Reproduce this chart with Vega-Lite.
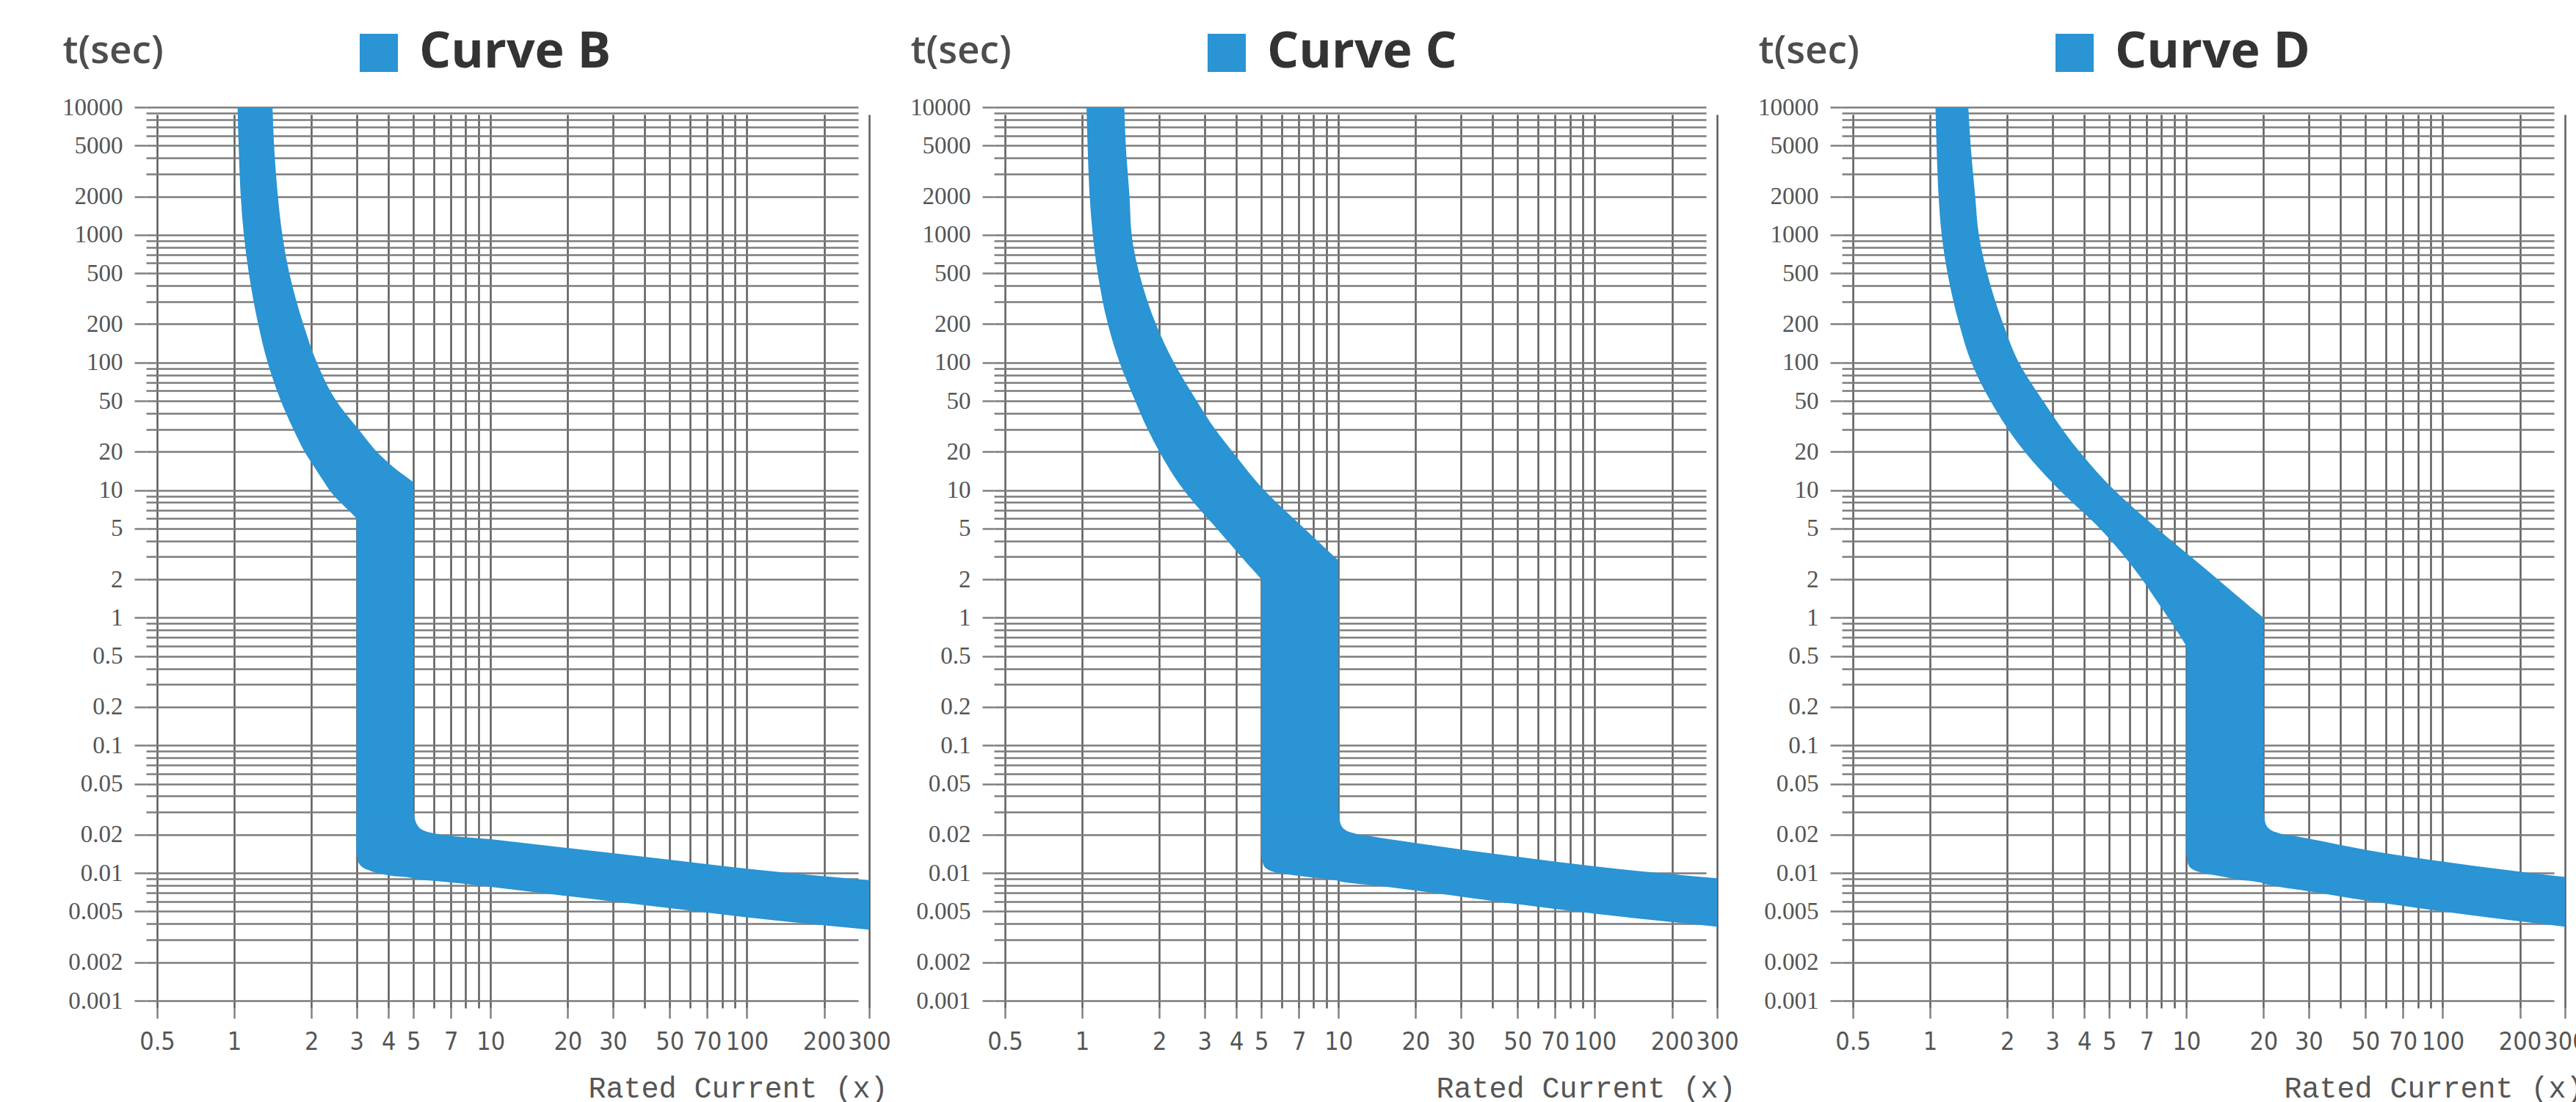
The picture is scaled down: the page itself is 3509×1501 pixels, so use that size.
{
  "$schema": "https://vega.github.io/schema/vega-lite/v6.json",
  "background": "white",
  "padding": {"left": 84, "top": 38, "right": 0, "bottom": 4},
  "datasets": {
    "B_steep": [
      {"t": 10000, "lo": 1.03, "hi": 1.41}, {"t": 5000, "lo": 1.04, "hi": 1.43}, {"t": 2000, "lo": 1.06, "hi": 1.48},
      {"t": 1000, "lo": 1.09, "hi": 1.54}, {"t": 500, "lo": 1.14, "hi": 1.64}, {"t": 200, "lo": 1.24, "hi": 1.86},
      {"t": 100, "lo": 1.35, "hi": 2.10}, {"t": 50, "lo": 1.52, "hi": 2.50}, {"t": 30, "lo": 1.70, "hi": 3.05},
      {"t": 20, "lo": 1.88, "hi": 3.6}, {"t": 15, "lo": 2.06, "hi": 4.2}, {"t": 11.8, "lo": 2.226, "hi": 4.92},
      {"t": 11.5, "lo": 2.245, "hi": 5.0}, {"t": 10, "lo": 2.35, "hi": 5.0}, {"t": 6.15, "lo": 2.965, "hi": 5.0},
      {"t": 6, "lo": 3.0, "hi": 5.0}, {"t": 0.014, "lo": 3.0, "hi": 5.0}
    ],
    "B_tail": [
      {"x": 3, "lo": 0.014, "hi": 0.03}, {"x": 3.05, "lo": 0.0122, "hi": 0.03}, {"x": 3.15, "lo": 0.0112, "hi": 0.03},
      {"x": 3.4, "lo": 0.0104, "hi": 0.03}, {"x": 4, "lo": 0.0096, "hi": 0.03}, {"x": 5, "lo": 0.0091, "hi": 0.03},
      {"x": 5.08, "lo": 0.009, "hi": 0.026}, {"x": 5.2, "lo": 0.0089, "hi": 0.0235}, {"x": 5.5, "lo": 0.0088, "hi": 0.0215},
      {"x": 6, "lo": 0.0087, "hi": 0.0205}, {"x": 10, "lo": 0.0078, "hi": 0.0184}, {"x": 20, "lo": 0.0066, "hi": 0.0157},
      {"x": 50, "lo": 0.0053, "hi": 0.0127}, {"x": 100, "lo": 0.0045, "hi": 0.0108}, {"x": 300, "lo": 0.0036, "hi": 0.0088}
    ],
    "C_steep": [
      {"t": 10000, "lo": 1.04, "hi": 1.46}, {"t": 5000, "lo": 1.05, "hi": 1.48}, {"t": 2000, "lo": 1.07, "hi": 1.53},
      {"t": 1000, "lo": 1.10, "hi": 1.56}, {"t": 500, "lo": 1.15, "hi": 1.67}, {"t": 200, "lo": 1.26, "hi": 1.94},
      {"t": 100, "lo": 1.40, "hi": 2.28}, {"t": 50, "lo": 1.61, "hi": 2.80}, {"t": 30, "lo": 1.80, "hi": 3.30},
      {"t": 20, "lo": 2.0, "hi": 3.86}, {"t": 10, "lo": 2.49, "hi": 5.13}, {"t": 5, "lo": 3.35, "hi": 7.36},
      {"t": 3, "lo": 4.18, "hi": 9.65}, {"t": 2.86, "lo": 4.267, "hi": 9.9}, {"t": 2.8, "lo": 4.306, "hi": 10},
      {"t": 2.05, "lo": 4.95, "hi": 10}, {"t": 2.0, "lo": 5.0, "hi": 10}, {"t": 0.014, "lo": 5.0, "hi": 10}
    ],
    "C_tail": [
      {"x": 5, "lo": 0.0137, "hi": 0.03}, {"x": 5.08, "lo": 0.0118, "hi": 0.03}, {"x": 5.25, "lo": 0.0108, "hi": 0.03},
      {"x": 5.7, "lo": 0.0101, "hi": 0.03}, {"x": 6.5, "lo": 0.0097, "hi": 0.03}, {"x": 8, "lo": 0.0092, "hi": 0.03},
      {"x": 10, "lo": 0.0087, "hi": 0.03}, {"x": 10.15, "lo": 0.0086, "hi": 0.025}, {"x": 10.5, "lo": 0.0085, "hi": 0.0222},
      {"x": 11.5, "lo": 0.0083, "hi": 0.0205}, {"x": 13, "lo": 0.0081, "hi": 0.0196}, {"x": 20, "lo": 0.0073, "hi": 0.0172},
      {"x": 50, "lo": 0.0057, "hi": 0.0134}, {"x": 100, "lo": 0.0048, "hi": 0.0113}, {"x": 300, "lo": 0.0038, "hi": 0.0091}
    ],
    "D_steep": [
      {"t": 10000, "lo": 1.05, "hi": 1.41}, {"t": 5000, "lo": 1.06, "hi": 1.44}, {"t": 2000, "lo": 1.08, "hi": 1.50},
      {"t": 1000, "lo": 1.11, "hi": 1.55}, {"t": 500, "lo": 1.17, "hi": 1.67}, {"t": 200, "lo": 1.30, "hi": 1.93},
      {"t": 100, "lo": 1.45, "hi": 2.22}, {"t": 50, "lo": 1.72, "hi": 2.76}, {"t": 20, "lo": 2.34, "hi": 3.83},
      {"t": 10, "lo": 3.2, "hi": 5.23}, {"t": 5, "lo": 4.6, "hi": 7.7}, {"t": 2.1, "lo": 6.6, "hi": 12.9},
      {"t": 1.2, "lo": 7.99, "hi": 17.9}, {"t": 1.03, "lo": 8.414, "hi": 19.65}, {"t": 1.0, "lo": 8.5, "hi": 20},
      {"t": 0.62, "lo": 9.9, "hi": 20}, {"t": 0.6, "lo": 10, "hi": 20}, {"t": 0.014, "lo": 10, "hi": 20}
    ],
    "D_tail": [
      {"x": 10, "lo": 0.0137, "hi": 0.03}, {"x": 10.15, "lo": 0.0118, "hi": 0.03}, {"x": 10.5, "lo": 0.0108, "hi": 0.03},
      {"x": 11.4, "lo": 0.0101, "hi": 0.03}, {"x": 13, "lo": 0.0096, "hi": 0.03}, {"x": 16, "lo": 0.0089, "hi": 0.03},
      {"x": 20, "lo": 0.0083, "hi": 0.03}, {"x": 20.3, "lo": 0.0082, "hi": 0.025}, {"x": 21, "lo": 0.0081, "hi": 0.0223},
      {"x": 23, "lo": 0.0078, "hi": 0.0205}, {"x": 26, "lo": 0.0075, "hi": 0.0196}, {"x": 30, "lo": 0.0072, "hi": 0.0186},
      {"x": 50, "lo": 0.0061, "hi": 0.0152}, {"x": 100, "lo": 0.005, "hi": 0.0123}, {"x": 300, "lo": 0.0038, "hi": 0.0093}
    ]
  },
  "hconcat": [
    {
      "width": 970, "height": 1217,
      "layer": [
        {
          "data": {"name": "B_steep"},
          "mark": {"type": "area", "orient": "horizontal", "interpolate": "monotone", "opacity": 1, "clip": true},
          "encoding": {
            "y": {"field": "t", "type": "quantitative", "title": "t(sec)", "scale": {"type": "log", "domain": [0.001, 10000], "nice": false},
              "axis": {"values": [0.001,0.002,0.003,0.004,0.005,0.006,0.007,0.008,0.009,0.01,0.02,0.03,0.04,0.05,0.06,0.07,0.08,0.09,0.1,0.2,0.3,0.4,0.5,0.6,0.7,0.8,0.9,1,2,3,4,5,6,7,8,9,10,20,30,40,50,60,70,80,90,100,200,300,400,500,600,700,800,900,1000,2000,3000,4000,5000,6000,7000,8000,9000,10000],
                "labelExpr": "indexof([0.001,0.002,0.005,0.01,0.02,0.05,0.1,0.2,0.5,1,2,5,10,20,50,100,200,500,1000,2000,5000,10000], datum.value) >= 0 ? datum.label : ''",
                "tickOpacity": {"condition": {"test": "indexof([0.001,0.002,0.005,0.01,0.02,0.05,0.1,0.2,0.5,1,2,5,10,20,50,100,200,500,1000,2000,5000,10000], datum.value) >= 0", "value": 1}, "value": 0}}},
            "x": {"field": "lo", "type": "quantitative", "title": "Rated Current (x)", "stack": null, "scale": {"type": "log", "domain": [0.5, 300], "nice": false},
              "axis": {"values": [0.5,1,2,3,4,5,6,7,8,9,10,20,30,40,50,60,70,80,90,100,200,300],
                "labelExpr": "indexof([0.5,1,2,3,4,5,7,10,20,30,50,70,100,200,300], datum.value) >= 0 ? datum.label : ''",
                "tickOpacity": {"condition": {"test": "indexof([0.5,1,2,3,4,5,7,10,20,30,50,70,100,200,300], datum.value) >= 0", "value": 1}, "value": 0}}},
            "x2": {"field": "hi"},
            "color": {"datum": "Curve B", "type": "nominal", "scale": {"range": ["#2a94d4"]},
              "legend": {"orient": "none", "legendX": 268, "legendY": -108}}
          }
        },
        {
          "data": {"name": "B_tail"},
          "mark": {"type": "area", "orient": "vertical", "interpolate": "monotone", "opacity": 1, "clip": true},
          "encoding": {
            "x": {"field": "x", "type": "quantitative", "title": "Rated Current (x)"},
            "y": {"field": "lo", "type": "quantitative", "title": "t(sec)", "stack": null},
            "y2": {"field": "hi"},
            "color": {"datum": "Curve B", "type": "nominal"}
          }
        }
      ]
    },
    {
      "width": 970, "height": 1217,
      "layer": [
        {
          "data": {"name": "C_steep"},
          "mark": {"type": "area", "orient": "horizontal", "interpolate": "monotone", "opacity": 1, "clip": true},
          "encoding": {
            "y": {"field": "t", "type": "quantitative", "title": "t(sec)", "scale": {"type": "log", "domain": [0.001, 10000], "nice": false},
              "axis": {"values": [0.001,0.002,0.003,0.004,0.005,0.006,0.007,0.008,0.009,0.01,0.02,0.03,0.04,0.05,0.06,0.07,0.08,0.09,0.1,0.2,0.3,0.4,0.5,0.6,0.7,0.8,0.9,1,2,3,4,5,6,7,8,9,10,20,30,40,50,60,70,80,90,100,200,300,400,500,600,700,800,900,1000,2000,3000,4000,5000,6000,7000,8000,9000,10000],
                "labelExpr": "indexof([0.001,0.002,0.005,0.01,0.02,0.05,0.1,0.2,0.5,1,2,5,10,20,50,100,200,500,1000,2000,5000,10000], datum.value) >= 0 ? datum.label : ''",
                "tickOpacity": {"condition": {"test": "indexof([0.001,0.002,0.005,0.01,0.02,0.05,0.1,0.2,0.5,1,2,5,10,20,50,100,200,500,1000,2000,5000,10000], datum.value) >= 0", "value": 1}, "value": 0}}},
            "x": {"field": "lo", "type": "quantitative", "title": "Rated Current (x)", "stack": null, "scale": {"type": "log", "domain": [0.5, 300], "nice": false},
              "axis": {"values": [0.5,1,2,3,4,5,6,7,8,9,10,20,30,40,50,60,70,80,90,100,200,300],
                "labelExpr": "indexof([0.5,1,2,3,4,5,7,10,20,30,50,70,100,200,300], datum.value) >= 0 ? datum.label : ''",
                "tickOpacity": {"condition": {"test": "indexof([0.5,1,2,3,4,5,7,10,20,30,50,70,100,200,300], datum.value) >= 0", "value": 1}, "value": 0}}},
            "x2": {"field": "hi"},
            "color": {"datum": "Curve C", "type": "nominal", "scale": {"range": ["#2a94d4"]},
              "legend": {"orient": "none", "legendX": 268, "legendY": -108}}
          }
        },
        {
          "data": {"name": "C_tail"},
          "mark": {"type": "area", "orient": "vertical", "interpolate": "monotone", "opacity": 1, "clip": true},
          "encoding": {
            "x": {"field": "x", "type": "quantitative", "title": "Rated Current (x)"},
            "y": {"field": "lo", "type": "quantitative", "title": "t(sec)", "stack": null},
            "y2": {"field": "hi"},
            "color": {"datum": "Curve C", "type": "nominal"}
          }
        }
      ]
    },
    {
      "width": 970, "height": 1217,
      "layer": [
        {
          "data": {"name": "D_steep"},
          "mark": {"type": "area", "orient": "horizontal", "interpolate": "monotone", "opacity": 1, "clip": true},
          "encoding": {
            "y": {"field": "t", "type": "quantitative", "title": "t(sec)", "scale": {"type": "log", "domain": [0.001, 10000], "nice": false},
              "axis": {"values": [0.001,0.002,0.003,0.004,0.005,0.006,0.007,0.008,0.009,0.01,0.02,0.03,0.04,0.05,0.06,0.07,0.08,0.09,0.1,0.2,0.3,0.4,0.5,0.6,0.7,0.8,0.9,1,2,3,4,5,6,7,8,9,10,20,30,40,50,60,70,80,90,100,200,300,400,500,600,700,800,900,1000,2000,3000,4000,5000,6000,7000,8000,9000,10000],
                "labelExpr": "indexof([0.001,0.002,0.005,0.01,0.02,0.05,0.1,0.2,0.5,1,2,5,10,20,50,100,200,500,1000,2000,5000,10000], datum.value) >= 0 ? datum.label : ''",
                "tickOpacity": {"condition": {"test": "indexof([0.001,0.002,0.005,0.01,0.02,0.05,0.1,0.2,0.5,1,2,5,10,20,50,100,200,500,1000,2000,5000,10000], datum.value) >= 0", "value": 1}, "value": 0}}},
            "x": {"field": "lo", "type": "quantitative", "title": "Rated Current (x)", "stack": null, "scale": {"type": "log", "domain": [0.5, 300], "nice": false},
              "axis": {"values": [0.5,1,2,3,4,5,6,7,8,9,10,20,30,40,50,60,70,80,90,100,200,300],
                "labelExpr": "indexof([0.5,1,2,3,4,5,7,10,20,30,50,70,100,200,300], datum.value) >= 0 ? datum.label : ''",
                "tickOpacity": {"condition": {"test": "indexof([0.5,1,2,3,4,5,7,10,20,30,50,70,100,200,300], datum.value) >= 0", "value": 1}, "value": 0}}},
            "x2": {"field": "hi"},
            "color": {"datum": "Curve D", "type": "nominal", "scale": {"range": ["#2a94d4"]},
              "legend": {"orient": "none", "legendX": 268, "legendY": -108}}
          }
        },
        {
          "data": {"name": "D_tail"},
          "mark": {"type": "area", "orient": "vertical", "interpolate": "monotone", "opacity": 1, "clip": true},
          "encoding": {
            "x": {"field": "x", "type": "quantitative", "title": "Rated Current (x)"},
            "y": {"field": "lo", "type": "quantitative", "title": "t(sec)", "stack": null},
            "y2": {"field": "hi"},
            "color": {"datum": "Curve D", "type": "nominal"}
          }
        }
      ]
    }
  ],
  "spacing": 185,
  "bounds": "flush",
  "resolve": {"scale": {"color": "independent"}, "legend": {"color": "independent"}},
  "config": {
    "view": {"stroke": null},
    "axisX": {
      "grid": true, "gridColor": "#5c5c5c", "gridWidth": 2.5, "domain": false,
      "tickColor": "#808080", "tickWidth": 2.5, "tickSize": 14, "offset": 10,
      "format": "~g", "labelFont": "DejaVu Sans Condensed, Liberation Sans Narrow, DejaVu Sans", "labelFontSize": 34, "labelColor": "#555555",
      "labelPadding": 15, "labelFlush": false, "labelOverlap": false, "labelBound": false,
      "titleFont": "Liberation Mono", "titleFontSize": 40, "titleFontWeight": "normal", "titleColor": "#555555",
      "titleX": 995, "titleY": 109, "titleAlign": "right", "titleBaseline": "middle"
    },
    "axisY": {
      "grid": true, "gridColor": "#7c7c7c", "gridWidth": 2.6, "domain": false,
      "tickColor": "#808080", "tickWidth": 2.5, "tickSize": 16, "offset": 15,
      "format": "~g", "labelFont": "Liberation Serif", "labelFontSize": 33, "labelColor": "#555555",
      "labelPadding": 16, "labelFlush": false, "labelOverlap": false, "labelBound": false,
      "titleFont": "Open Sans", "titleFontSize": 53, "titleFontWeight": 600, "titleColor": "#4d4d4d",
      "titleAngle": 0, "titleX": -114, "titleY": -77, "titleAlign": "left", "titleBaseline": "middle"
    },
    "legend": {
      "title": null, "symbolType": "square", "symbolSize": 2704, "symbolStrokeWidth": 0, "symbolOpacity": 1,
      "labelFont": "Open Sans", "labelFontSize": 68, "labelFontWeight": "bold", "labelColor": "#333333",
      "labelOffset": 21, "padding": 0, "labelLimit": 0
    }
  }
}
